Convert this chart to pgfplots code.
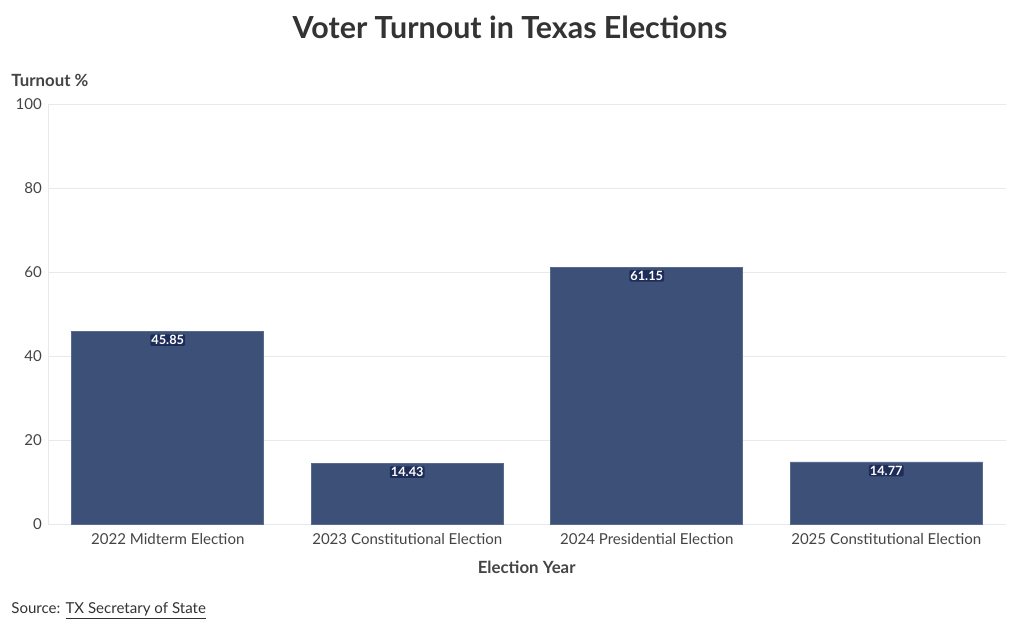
\documentclass[border=0pt]{standalone}
\usepackage{pgfplots}
\pgfplotsset{compat=1.18}
\usepackage{fontspec}
\setmainfont{Lato}
\definecolor{barc}{HTML}{3D5077}
\definecolor{labbg}{HTML}{1E2C58}
\definecolor{txt}{HTML}{444444}
\definecolor{gridc}{HTML}{E9E9E9}
\begin{document}
\begin{tikzpicture}
\useasboundingbox (0pt,0pt) rectangle (765pt,473.25pt);
\begin{axis}[
  at={(36pt,80.25pt)}, anchor=south west,
  scale only axis, width=718.5pt, height=315pt,
  xmin=-0.5, xmax=3.5, ymin=0, ymax=100,
  ybar, bar width=144pt, bar shift=0pt,
  xtick=data,
  xticklabels={2022 Midterm Election,2023 Constitutional Election,2024 Presidential Election,2025 Constitutional Election},
  ytick={0,20,40,60,80,100},
  ymajorgrids, grid style={gridc, line width=0.6pt},
  axis line style={gridc, line width=0.6pt},
  axis x line*=bottom, axis y line*=left,
  tick style={draw=none},
  tick label style={font=\fontsize{11.3}{13}\selectfont, text=txt},
  /pgf/number format/assume math mode=true,
  xticklabel style={yshift=1pt},
  yticklabel style={xshift=-1pt},
  clip=false,
  nodes near coords,
  every node near coord/.style={anchor=north, yshift=-2pt, fill=labbg, inner sep=0.8pt, text=white, font=\bfseries\fontsize{9.6}{11}\selectfont, rounded corners=1pt},
  nodes near coords={\pgfmathprintnumber[fixed,precision=2,fixed zerofill]{\pgfplotspointmeta}},
]
\addplot[fill=barc, draw=barc!85!white, line width=0.4pt] coordinates {(0,45.85) (1,14.43) (2,61.15) (3,14.77)};
\end{axis}
\node[font=\bfseries\fontsize{22.8}{26}\selectfont, text=black!80] at (382.5pt,452.5pt) {Voter Turnout in Texas Elections};
\node[anchor=west, font=\bfseries\fontsize{12.6}{14}\selectfont, text=txt] at (5pt,413pt) {Turnout \%};
\node[font=\bfseries\fontsize{12.6}{14}\selectfont, text=txt] at (395pt,47.5pt) {Election Year};
\node[anchor=west, font=\fontsize{11.3}{13}\selectfont, text=black!80] at (5pt,15pt) {Source: \underline{TX Secretary of State}};
\end{tikzpicture}
\end{document}
